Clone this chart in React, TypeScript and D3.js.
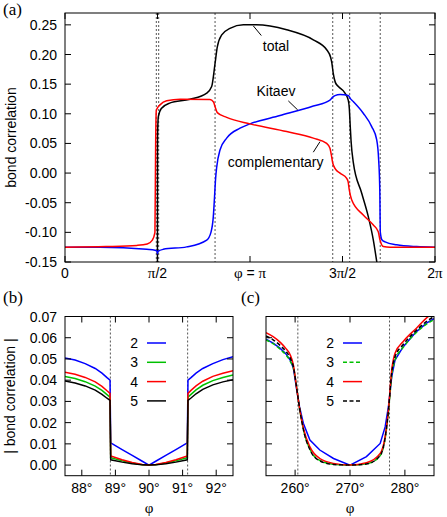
import React from "react";
import * as d3 from "d3";

const W = 447;
const H = 517;
const SANS = "'Liberation Sans', Arial, Helvetica, sans-serif";
const SERIF = "'Liberation Serif', 'Times New Roman', serif";
const FS = 14;

// (a) bond correlations over the full circle, phi in degrees
const totalA: [number, number][] = [
  [0, -0.25], [89.9, -0.25], [90.05, 0.06], [90.8, 0.095], [93.7, 0.109],
  [101.8, 0.118], [121.6, 0.1246], [137.9, 0.135], [142.7, 0.146],
  [146, 0.185], [148.2, 0.213], [152.5, 0.233], [160.5, 0.244],
  [173.5, 0.25], [186, 0.25], [215.7, 0.2416], [241.6, 0.2247],
  [254.6, 0.208], [258.5, 0.195], [259.7, 0.185], [261, 0.168],
  [263, 0.153], [266, 0.146], [272.4, 0.135], [275.6, 0.123],
  [276.6, 0.11], [277.5, 0.08], [278.3, 0.055], [280.5, 0.018],
  [288.7, -0.034], [295.1, -0.0735], [300, -0.113], [303.3, -0.149],
  [306, -0.18],
];

const kitaevA: [number, number][] = [
  [0, -0.125], [34, -0.125], [79.5, -0.1286], [87.6, -0.13], [89.5, -0.132],
  [90, -0.136], [90.5, -0.132], [95.6, -0.1286], [118.4, -0.1245],
  [137.9, -0.113], [142, -0.1], [144.3, -0.0735], [145.5, -0.04],
  [146.5, -0.01], [147.6, 0.01], [150.8, 0.039], [157.3, 0.059],
  [170.3, 0.0757], [180, 0.083], [209.2, 0.097], [241.6, 0.113],
  [257.8, 0.123], [260.5, 0.128], [262.7, 0.1307], [267.6, 0.1324],
  [275.6, 0.131], [277.5, 0.126], [280.5, 0.1206], [290.2, 0.101],
  [298.4, 0.0784], [303.3, 0.056], [305.2, 0.022], [306.3, -0.03],
  [306.8, -0.1], [308.5, -0.113], [311.4, -0.116], [322.7, -0.121],
  [342.2, -0.124], [360, -0.125],
];

const complementaryA: [number, number][] = [
  [0, -0.125], [40, -0.124], [70, -0.122], [80, -0.1196], [85, -0.113],
  [87.5, -0.1], [88.2, 0.05], [88.8, 0.105], [90, 0.11], [92.4, 0.115],
  [98.9, 0.122], [112, 0.1246], [141, 0.124], [144.5, 0.12], [146, 0.112],
  [148.2, 0.102], [157.3, 0.094], [180, 0.083], [215.7, 0.07],
  [241.6, 0.059], [254.6, 0.05], [257.8, 0.042], [259, 0.032],
  [260.5, 0.017], [263, 0.007], [267.6, 0], [274.1, -0.009],
  [275.5, -0.015], [276.6, -0.0285], [278.9, -0.045], [290.2, -0.0707],
  [300, -0.0876], [304.8, -0.099], [306.5, -0.113], [309.7, -0.124],
  [316.2, -0.125], [360, -0.125],
];

const transitionsA = [88.85, 91.15, 146, 260.5, 277, 306.7];
const yTicksA = [-0.15, -0.1, -0.05, 0, 0.05, 0.1, 0.15, 0.2, 0.25];
const xTicksA = [0, 90, 180, 270, 360];
const xLabelsA = ["0", "π/2", "φ = π", "3π/2", "2π"];

// (b) |bond correlation| around phi = 90 deg, for sizes 2..5
const phiB = [
  87.5, 87.8, 88.1, 88.4, 88.6, 88.75, 88.84, 88.86, 89.2, 89.5, 89.8, 90,
  90.2, 90.5, 90.8, 91.14, 91.16, 91.25, 91.4, 91.6, 91.9, 92.2, 92.5,
];
const b2 = [
  0.0505, 0.0495, 0.0478, 0.0455, 0.0433, 0.0412, 0.04, 0.0105, 0.0073,
  0.0046, 0.0018, 0, 0.0018, 0.0046, 0.0073, 0.0105, 0.04, 0.0412, 0.0433,
  0.0455, 0.0478, 0.0497, 0.051,
];
const b3 = [
  0.0417, 0.0408, 0.0393, 0.0372, 0.0352, 0.0332, 0.032, 0.0035, 0.002,
  0.001, 0.0002, 0, 0.0002, 0.001, 0.002, 0.0035, 0.032, 0.0333, 0.0354,
  0.0376, 0.0398, 0.0413, 0.0425,
];
const b4 = [
  0.0437, 0.0428, 0.0413, 0.0392, 0.0371, 0.035, 0.0338, 0.0043, 0.0025,
  0.0012, 0.0003, 0, 0.0003, 0.0012, 0.0025, 0.0043, 0.0338, 0.0352, 0.0373,
  0.0395, 0.0418, 0.0433, 0.0445,
];
const b5 = [
  0.0396, 0.0387, 0.0373, 0.0353, 0.0333, 0.0315, 0.0305, 0.0025, 0.0014,
  0.0006, 0.0001, 0, 0.0001, 0.0006, 0.0014, 0.0025, 0.0305, 0.0316, 0.0336,
  0.0357, 0.0378, 0.0392, 0.0402,
];
const transitionsB = [88.85, 91.15];
const xTicksB = [88, 89, 90, 91, 92];

// (c) |bond correlation| around phi = 270 deg
const phiC = [
  254.7, 256, 257.3, 258.3, 259.1, 259.7, 260.3, 260.8, 261.5, 262.7, 264.5,
  267, 270, 273, 275.5, 276.4, 277, 277.6, 278.2, 279.7, 282.1, 284, 285.3,
];
const c2 = [
  0.0593, 0.0575, 0.055, 0.0525, 0.0495, 0.0456, 0.0354, 0.0275, 0.0197,
  0.0118, 0.0071, 0.0031, 0, 0.004, 0.0102, 0.018, 0.0275, 0.0417, 0.0495,
  0.0558, 0.0629, 0.067, 0.069,
];
const c3 = [
  0.059, 0.0572, 0.0545, 0.052, 0.049, 0.0455, 0.036, 0.027, 0.017, 0.0075,
  0.0022, 0.0004, 0, 0.0006, 0.0045, 0.0125, 0.025, 0.042, 0.0495, 0.0555,
  0.0625, 0.0665, 0.0685,
];
const c4 = [
  0.0624, 0.0605, 0.0578, 0.055, 0.052, 0.047, 0.036, 0.027, 0.0175, 0.0086,
  0.0031, 0.0008, 0, 0.0011, 0.0055, 0.0134, 0.026, 0.0448, 0.0527, 0.0582,
  0.0645, 0.0695, 0.072,
];
const c5 = [
  0.0608, 0.059, 0.0563, 0.0537, 0.0505, 0.0462, 0.036, 0.027, 0.0168,
  0.0072, 0.002, 0.0003, 0, 0.0005, 0.0045, 0.0128, 0.0255, 0.0435, 0.051,
  0.0568, 0.0635, 0.0678, 0.07,
];
const transitionsC = [260.5, 277.2];
const xTicksC = [260, 270, 280];

const yTicksBC = [0, 0.01, 0.02, 0.03, 0.04, 0.05, 0.06, 0.07];
const sizes = ["2", "3", "4", "5"];
const sizeColors = ["#0000ff", "#00c000", "#ff0000", "#000000"];

// frames
const frameA = { left: 65, right: 435, top: 13, bottom: 262 };
const frameB = { left: 65, right: 233, top: 316.5, bottom: 475.7 };
const frameC = { left: 266, right: 434, top: 316.5, bottom: 475.7 };

const TICK = 6;

function Frame({ f, x, y, xTicks, yTicks, xLabel, yLabel }) {
  return (
    <g>
      <rect
        x={f.left}
        y={f.top}
        width={f.right - f.left}
        height={f.bottom - f.top}
        fill="none"
        stroke="#000"
        strokeWidth={1}
      />
      {xTicks.map((t, i) => (
        <g key={"x" + i}>
          <line x1={x(t)} x2={x(t)} y1={f.bottom} y2={f.bottom - TICK} stroke="#000" />
          <line x1={x(t)} x2={x(t)} y1={f.top} y2={f.top + TICK} stroke="#000" />
          {xLabel && xLabel(t, i)}
        </g>
      ))}
      {yTicks.map((t, i) => (
        <g key={"y" + i}>
          <line x1={f.left} x2={f.left + TICK} y1={y(t)} y2={y(t)} stroke="#000" />
          <line x1={f.right} x2={f.right - TICK} y1={y(t)} y2={y(t)} stroke="#000" />
          {yLabel && (
            <text
              x={f.left - 8}
              y={y(t)}
              dy="0.36em"
              textAnchor="end"
              fontFamily={SANS}
              fontSize={FS}
            >
              {yLabel(t)}
            </text>
          )}
        </g>
      ))}
    </g>
  );
}

export default function App() {
  // (a) scales
  const xA = d3.scaleLinear().domain([0, 360]).range([frameA.left, frameA.right]);
  const yA = d3.scaleLinear().domain([-0.15, 0.27]).range([frameA.bottom, frameA.top]);

  // (b), (c) scales
  const xB = d3.scaleLinear().domain([87.5, 92.5]).range([frameB.left, frameB.right]);
  const xC = d3.scaleLinear().domain([254.7, 285.3]).range([frameC.left, frameC.right]);
  const yBC = d3.scaleLinear().domain([-0.005, 0.07]).range([frameB.bottom, frameB.top]);

  const lineA = d3
    .line<[number, number]>()
    .x(d => xA(d[0]))
    .y(d => yA(d[1]))
    .curve(d3.curveMonotoneX);

  const lineBC = (xs, curve) =>
    d3
      .line<[number, number]>()
      .x(d => xs(d[0]))
      .y(d => yBC(d[1]))
      .curve(curve);

  const seriesB = [b2, b3, b4, b5];
  const seriesC = [c2, c3, c4, c5];
  const dashedC = [false, true, false, true];

  const annotations = [
    { text: "total", at: [205.3, 0.2066], from: [183.2, 0.2483], to: [191, 0.232] },
    { text: "Kitaev", at: [205.3, 0.1307], from: [217.3, 0.1217], to: [226.4, 0.1065] },
    { text: "complementary", at: [205, 0.0098], from: [248.1, 0.053], to: [241.6, 0.0352] },
  ];

  const xLabelA = (t, i) => {
    const lbl = xLabelsA[i];
    return (
      <text
        x={xA(t)}
        y={frameA.bottom + 16}
        textAnchor="middle"
        fontFamily={SANS}
        fontSize={FS}
      >
        {lbl.split("").map((ch, k) =>
          ch === "π" || ch === "φ" ? (
            <tspan key={k} fontFamily={SERIF} fontSize={FS + 1}>
              {ch}
            </tspan>
          ) : (
            <tspan key={k}>{ch}</tspan>
          )
        )}
      </text>
    );
  };

  const degLabel = xs => t => (
    <text
      x={xs(t)}
      y={frameB.bottom + 17.5}
      textAnchor="middle"
      fontFamily={SANS}
      fontSize={FS}
    >
      {t}°
    </text>
  );

  const legend = (lx, dashed) =>
    sizes.map((s, i) => {
      const ly = 343 + i * 19.3;
      return (
        <g key={s}>
          <text x={lx} y={ly} dy="0.36em" textAnchor="end" fontFamily={SANS} fontSize={FS}>
            {s}
          </text>
          <line
            x1={lx + 9}
            x2={lx + 28}
            y1={ly}
            y2={ly}
            stroke={sizeColors[i]}
            strokeWidth={1.5}
            strokeDasharray={dashed[i] ? "4,2.5" : undefined}
          />
        </g>
      );
    });

  return (
    <svg
      width={W}
      height={H}
      style={{ position: "absolute", left: 0, top: 0, background: "#fff" }}
    >
      <defs>
        <clipPath id="clipA">
          <rect x={frameA.left} y={frameA.top} width={frameA.right - frameA.left} height={frameA.bottom - frameA.top} />
        </clipPath>
        <clipPath id="clipB">
          <rect x={frameB.left} y={frameB.top} width={frameB.right - frameB.left} height={frameB.bottom - frameB.top} />
        </clipPath>
        <clipPath id="clipC">
          <rect x={frameC.left} y={frameC.top} width={frameC.right - frameC.left} height={frameC.bottom - frameC.top} />
        </clipPath>
      </defs>

      {/* Panel (a) */}
      <text x={3} y={15} fontFamily={SERIF} fontSize={17}>(a)</text>
      {transitionsA.map(t => (
        <line
          key={t}
          x1={xA(t)}
          x2={xA(t)}
          y1={frameA.top}
          y2={frameA.bottom}
          stroke="#555"
          strokeDasharray="2,2"
        />
      ))}
      <g clipPath="url(#clipA)" fill="none" strokeWidth={1.5}>
        <path d={lineA(totalA)} stroke="#000" />
        <path d={lineA(kitaevA)} stroke="#0000ff" />
        <path d={lineA(complementaryA)} stroke="#ff0000" />
      </g>
      <Frame
        f={frameA}
        x={xA}
        y={yA}
        xTicks={xTicksA}
        yTicks={yTicksA}
        xLabel={xLabelA}
        yLabel={t => t.toFixed(2)}
      />
      <text
        transform={`translate(16, ${(frameA.top + frameA.bottom) / 2}) rotate(-90)`}
        textAnchor="middle"
        fontFamily={SANS}
        fontSize={FS}
      >
        bond correlation
      </text>
      {annotations.map(a => (
        <g key={a.text}>
          <line
            x1={xA(a.from[0])}
            y1={yA(a.from[1])}
            x2={xA(a.to[0])}
            y2={yA(a.to[1])}
            stroke="#000"
          />
          <text
            x={xA(a.at[0])}
            y={yA(a.at[1])}
            textAnchor="middle"
            fontFamily={SANS}
            fontSize={FS}
          >
            {a.text}
          </text>
        </g>
      ))}

      {/* Panel (b) */}
      <text x={3} y={303} fontFamily={SERIF} fontSize={17}>(b)</text>
      {transitionsB.map(t => (
        <line
          key={t}
          x1={xB(t)}
          x2={xB(t)}
          y1={frameB.top}
          y2={frameB.bottom}
          stroke="#555"
          strokeDasharray="2,2"
        />
      ))}
      <g clipPath="url(#clipB)" fill="none" strokeWidth={1.5}>
        {seriesB.map((s, i) => (
          <path
            key={i}
            d={lineBC(xB, d3.curveLinear)(d3.zip(phiB, s) as [number, number][])}
            stroke={sizeColors[i]}
          />
        ))}
      </g>
      <Frame
        f={frameB}
        x={xB}
        y={yBC}
        xTicks={xTicksB}
        yTicks={yTicksBC}
        xLabel={degLabel(xB)}
        yLabel={t => t.toFixed(2)}
      />
      {legend(138, [false, false, false, false])}
      <text
        transform={`translate(15, ${(frameB.top + frameB.bottom) / 2}) rotate(-90)`}
        textAnchor="middle"
        fontFamily={SANS}
        fontSize={FS}
      >
        | bond correlation |
      </text>
      <text
        x={(frameB.left + frameB.right) / 2}
        y={513}
        textAnchor="middle"
        fontFamily={SERIF}
        fontSize={15}
      >
        φ
      </text>

      {/* Panel (c) */}
      <text x={241} y={303} fontFamily={SERIF} fontSize={17}>(c)</text>
      {transitionsC.map(t => (
        <line
          key={t}
          x1={xC(t)}
          x2={xC(t)}
          y1={frameC.top}
          y2={frameC.bottom}
          stroke="#555"
          strokeDasharray="2,2"
        />
      ))}
      <g clipPath="url(#clipC)" fill="none" strokeWidth={1.5}>
        {seriesC.map((s, i) => (
          <path
            key={i}
            d={lineBC(xC, i === 0 ? d3.curveLinear : d3.curveMonotoneX)(
              d3.zip(phiC, s) as [number, number][]
            )}
            stroke={sizeColors[i]}
            strokeDasharray={dashedC[i] ? "4,2.5" : undefined}
          />
        ))}
      </g>
      <Frame
        f={frameC}
        x={xC}
        y={yBC}
        xTicks={xTicksC}
        yTicks={yTicksBC}
        xLabel={degLabel(xC)}
        yLabel={null}
      />
      {legend(334, dashedC)}
      <text
        x={(frameC.left + frameC.right) / 2}
        y={513}
        textAnchor="middle"
        fontFamily={SERIF}
        fontSize={15}
      >
        φ
      </text>
    </svg>
  );
}
